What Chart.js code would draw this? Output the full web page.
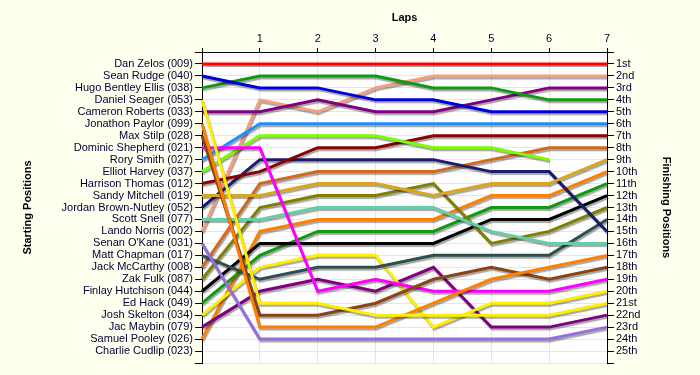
<!DOCTYPE html>
<html>
<head>
<meta charset="utf-8">
<script src="https://cdn.jsdelivr.net/npm/chart.js@4.4.1/dist/chart.umd.min.js"></script>
<style>
    html, body { margin: 0; padding: 0; background: #fffff0; }
    #wrap { width: 700px; height: 375px; }
</style>
</head>
<body>
<div id="wrap"><canvas id="lapChart" width="700" height="375"></canvas></div>
<script>
// Rundenlabels (0 = Startaufstellung)
const laps = ['0', '1', '2', '3', '4', '5', '6', '7'];

// Fahrer in Startreihenfolge
const drivers = [
    'Dan Zelos (009)', 'Sean Rudge (040)', 'Hugo Bentley Ellis (038)', 'Daniel Seager (053)',
    'Cameron Roberts (033)', 'Jonathon Paylor (099)', 'Max Stilp (028)', 'Dominic Shepherd (021)',
    'Rory Smith (027)', 'Elliot Harvey (037)', 'Harrison Thomas (012)', 'Sandy Mitchell (019)',
    'Jordan Brown-Nutley (052)', 'Scott Snell (077)', 'Lando Norris (002)', "Senan O'Kane (031)",
    'Matt Chapman (017)', 'Jack McCarthy (008)', 'Zak Fulk (087)', 'Finlay Hutchison (044)',
    'Ed Hack (049)', 'Josh Skelton (034)', 'Jac Maybin (079)', 'Samuel Pooley (026)',
    'Charlie Cudlip (023)'
];

const finishLabels = [
    '1st', '2nd', '3rd', '4th', '5th', '6th', '7th', '8th', '9th', '10th',
    '11th', '12th', '13th', '14th', '15th', '16th', '17th', '18th', '19th', '20th',
    '21st', '22nd', '23rd', '24th', '25th'
];

// Position pro Runde (Start, Runde 1..7), gleiche Reihenfolge wie drivers
const positions = [
    [1, 1, 1, 1, 1, 1, 1, 1],
    [2, 3, 3, 4, 4, 5, 5, 5],
    [3, 2, 2, 2, 3, 3, 4, 4],
    [4, 21, 21, 22, 22, 22, 22, 21],
    [5, 5, 4, 5, 5, 4, 3, 3],
    [6, 23, 23, 23, 21, 19, 18, 17],
    [7, 22, 22, 21, 19, 18, 19, 18],
    [8, 8, 20, 19, 20, 20, 20, 19],
    [9, 6, 6, 6, 6, 6, 6, 6],
    [10, 7, 7, 7, 8, 8, 9, null],
    [11, 10, 8, 8, 7, 7, 7, 7],
    [12, 12, 11, 11, 12, 11, 11, 9],
    [13, 9, 9, 9, 9, 10, 10, 15],
    [14, 14, 13, 13, 13, 15, 16, 16],
    [15, 4, 5, 3, 2, 2, 2, 2],
    [16, 24, 24, 24, 24, 24, 24, 23],
    [17, 19, 18, 18, 17, 17, 17, 14],
    [18, 11, 10, 10, 10, 9, 8, 8],
    [19, 13, 12, 12, 11, 16, 15, 13],
    [20, 16, 16, 16, 16, 14, 14, 12],
    [21, 17, 15, 15, 15, 13, 13, 11],
    [22, 18, 17, 17, 23, 21, 21, 20],
    [23, 20, 19, 20, 18, 23, 23, 22],
    [24, 15, 14, 14, 14, 12, 12, 10],
    [25, null, null, null, null, null, null, null]
];

const lineColors = [
    '#ff0000', '#0000dd', '#109a10', '#ffee00', '#800080', '#ff8000', '#8b4513', '#ff00ff',
    '#1e90ff', '#7cfc00', '#8b0000', '#daa520', '#1c1c6e', '#66cdaa', '#f4a080', '#9370db',
    '#2f4f4f', '#d2691e', '#808000', '#000000', '#109a10', '#ffee00', '#800080', '#ff8000',
    '#000000'
];

const textColor = '#000033';
const tickFont = { family: 'Liberation Sans, Arial, sans-serif', size: 11 };
const titleFont = { family: 'Liberation Sans, Arial, sans-serif', size: 11, weight: 'bold' };

// Weißer Plotbereich + Schatten unter den Linien
const areaPlugin = {
    id: 'areaBg',
    beforeDraw(chart) {
        const { ctx, chartArea: a } = chart;
        ctx.save();
        ctx.fillStyle = '#ffffff';
        ctx.fillRect(a.left, a.top, a.right - a.left, a.bottom - a.top);
        ctx.restore();
    },
    beforeDatasetsDraw(chart) {
        const ctx = chart.ctx;
        ctx.save();
        ctx.shadowColor = 'rgba(0,0,0,0.35)';
        ctx.shadowOffsetX = 1;
        ctx.shadowOffsetY = 2;
        ctx.shadowBlur = 1;
    },
    afterDatasetsDraw(chart) {
        chart.ctx.restore();
    }
};

const datasets = drivers.map((name, i) => ({
    label: name,
    data: positions[i],
    borderColor: lineColors[i],
    backgroundColor: lineColors[i],
    borderWidth: 3,
    tension: 0,
    pointRadius: 0,
    spanGaps: false,
    yAxisID: 'y'
}));

new Chart(document.getElementById('lapChart'), {
    type: 'line',
    data: { labels: laps, datasets: datasets },
    plugins: [areaPlugin],
    options: {
        responsive: false,
        animation: false,
        layout: { padding: { bottom: 12 } },
        plugins: { legend: { display: false }, tooltip: { enabled: false } },
        scales: {
            x: {
                position: 'top',
                offset: false,
                grid: { color: '#e6e6e6', tickColor: '#000', tickLength: 4 },
                border: { color: '#000' },
                ticks: {
                    color: textColor, font: tickFont, padding: 2, maxRotation: 0, autoSkip: false,
                    callback: (v, i) => (i === 0 ? '' : laps[i])
                },
                title: { display: true, text: 'Laps', color: '#000', font: titleFont, padding: { top: 11, bottom: 0 } },
                afterFit: s => { s.height = 52; }
            },
            y: {
                position: 'left',
                reverse: true,
                min: 0,
                max: 26,
                grid: { color: '#e6e6e6', tickColor: '#000', tickLength: 7 },
                border: { color: '#000' },
                ticks: {
                    stepSize: 1, autoSkip: false, color: textColor, font: tickFont, padding: 2,
                    callback: v => drivers[v - 1] || ''
                },
                title: { display: true, text: 'Starting Positions', color: '#000', font: titleFont, padding: { top: 21, bottom: 0 } },
                afterFit: s => { s.width = 202; }
            },
            y2: {
                position: 'right',
                reverse: true,
                min: 0,
                max: 26,
                grid: { drawOnChartArea: false, tickColor: '#000', tickLength: 7 },
                border: { color: '#000' },
                ticks: {
                    stepSize: 1, autoSkip: false, color: textColor, font: tickFont, padding: 2,
                    callback: v => finishLabels[v - 1] || ''
                },
                title: { display: true, text: 'Finishing Positions', color: '#000', font: titleFont, padding: { top: 27, bottom: 0 } },
                afterFit: s => { s.width = 93; }
            }
        }
    }
});
</script>
</body>
</html>
